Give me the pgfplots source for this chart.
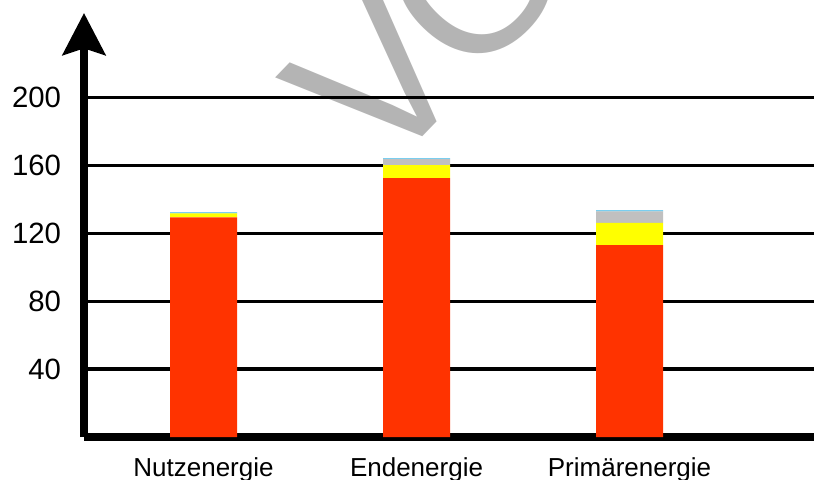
\documentclass[border=0pt]{standalone}
\usepackage{pgfplots}
\pgfplotsset{compat=1.18}
\usepackage{fontspec}
\setmainfont{Liberation Sans}
\usetikzlibrary{arrows.meta}
\definecolor{rot}{RGB}{255,51,0}
\definecolor{gelb}{RGB}{255,255,0}
\definecolor{grau}{RGB}{192,192,192}
\definecolor{blau}{RGB}{51,180,230}
\definecolor{wz}{RGB}{180,180,180}
\begin{document}
\begin{tikzpicture}
% watermark behind everything
\node[anchor=base west, inner sep=0pt, rotate=46, text=wz,
      font=\fontsize{160}{160}\selectfont] at (222.5pt,192pt) {V\kern-10pt ORSCHAU};
\begin{axis}[
    scale only axis,
    width=547.5pt, height=318pt,
    xmin=-0.561, xmax=2.866,
    ymin=0, ymax=249.8,
    axis lines=left,
    axis line style={line width=6pt, black},
    x axis line style={-},
    y axis line style={-{Stealth[length=31.5pt, width=32pt, inset=5pt]}},
    ymajorgrids,
    grid style={black, line width=2.5pt},
    major tick length=0pt,
    ytick={40,80,120,160,200},
    xtick={0,1,2},
    xticklabels={Nutzenergie, Endenergie, Primärenergie},
    /pgf/number format/assume math mode=true,
    yticklabel style={font=\fontsize{22}{22}\selectfont, anchor=east, inner sep=0pt, xshift=-17pt},
    xticklabel style={font=\fontsize{19.5}{19.5}\selectfont, anchor=base, inner sep=0pt, yshift=-29.25pt},
    ybar stacked,
    bar width=50.25pt,
    clip=false,
]
\addplot[fill=rot, draw=none] coordinates {(0,129.4) (1,152.5) (2,113.1)};
\addplot[fill=gelb, draw=none] coordinates {(0,2.4) (1,7.7) (2,13.0)};
\addplot[fill=grau, draw=none] coordinates {(0,0) (1,3.5) (2,6.9)};
\addplot[fill=blau, draw=none] coordinates {(0,0.6) (1,0.5) (2,0.5)};
\end{axis}
\pgfresetboundingbox
\path (-63pt,-31.5pt) rectangle (547.5pt,327.75pt);
\end{tikzpicture}
\end{document}
